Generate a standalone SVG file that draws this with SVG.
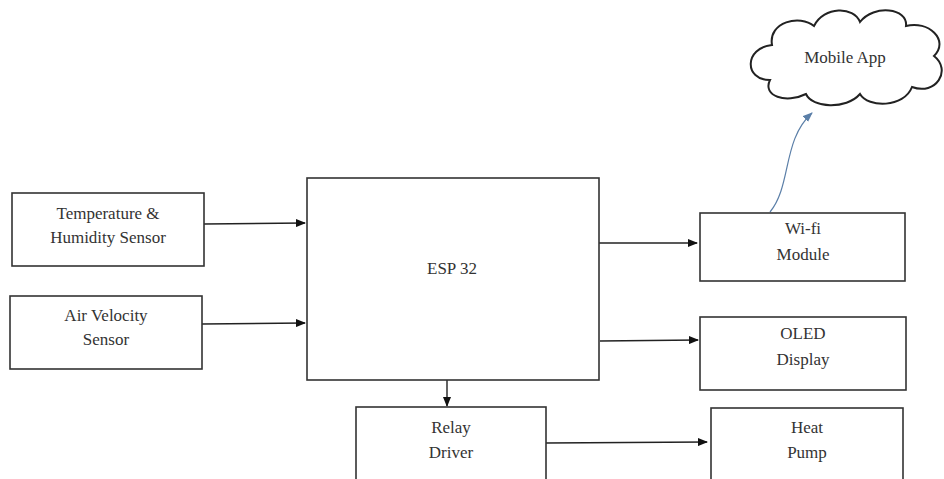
<svg xmlns="http://www.w3.org/2000/svg" width="944" height="479" viewBox="0 0 944 479">
<defs>
<marker id="ah" markerWidth="10" markerHeight="8" refX="9" refY="4" orient="auto" markerUnits="userSpaceOnUse">
<path d="M0,0 L10,4 L0,8 Z" fill="#111"/>
</marker>
<marker id="ahb" markerWidth="10" markerHeight="8" refX="9" refY="4" orient="auto" markerUnits="userSpaceOnUse">
<path d="M0,0 L10,4 L0,8 Z" fill="#5b7fa8"/>
</marker>
<style>
.box{fill:#fff;stroke:#333;stroke-width:1.6}
.t{font-family:"Liberation Serif",Tinos,"Times New Roman",Times,serif;font-size:17px;fill:#333;text-anchor:middle}
.c{stroke:#222;stroke-width:1.4;fill:none}
</style>
</defs>
<rect width="944" height="479" fill="#fff"/>
<g id="connectors">
<line class="c" x1="204" y1="224" x2="305" y2="223" marker-end="url(#ah)"/>
<line class="c" x1="202" y1="324" x2="305" y2="323" marker-end="url(#ah)"/>
<line class="c" x1="596" y1="243" x2="697" y2="243" marker-end="url(#ah)"/>
<line class="c" x1="600" y1="341" x2="698" y2="340" marker-end="url(#ah)"/>
<line class="c" x1="447" y1="380" x2="447" y2="406" marker-end="url(#ah)"/>
<line class="c" x1="546" y1="443" x2="707" y2="442" marker-end="url(#ah)"/>
<path d="M770,212 C792,185 782,140 812,113" stroke="#5b7fa8" stroke-width="1.2" fill="none" marker-end="url(#ahb)"/>
</g>
<g id="temp"><rect class="box" x="12" y="193" width="192" height="73"/>
<text class="t" x="108" y="219">Temperature &amp;</text><text class="t" x="108" y="243">Humidity Sensor</text></g>
<g id="air"><rect class="box" x="10" y="296" width="192" height="73"/>
<text class="t" x="106" y="321">Air Velocity</text><text class="t" x="106" y="345">Sensor</text></g>
<g id="esp"><rect class="box" x="307" y="178" width="292" height="202"/>
<text class="t" x="452" y="274">ESP 32</text></g>
<g id="wifi"><rect class="box" x="700" y="213" width="205" height="68"/>
<text class="t" x="803" y="234">Wi-fi</text><text class="t" x="803" y="260">Module</text></g>
<g id="oled"><rect class="box" x="700" y="317" width="206" height="73"/>
<text class="t" x="803" y="339">OLED</text><text class="t" x="803" y="365">Display</text></g>
<g id="relay"><rect class="box" x="356" y="407" width="190" height="90"/>
<text class="t" x="451" y="433">Relay</text><text class="t" x="451" y="458">Driver</text></g>
<g id="heat"><rect class="box" x="711" y="408" width="192" height="90"/>
<text class="t" x="807" y="433">Heat</text><text class="t" x="807" y="458">Pump</text></g>
<g id="cloud">
<path d="M770,80 C744,80 744,48 772,45 C768,22 800,14 814,26 C824,6 854,6 860,22 C874,4 908,8 906,26 C928,20 950,40 934,56 C952,70 936,96 912,87 C904,108 868,108 860,94 C846,110 812,108 806,94 C786,104 762,96 770,80 Z" fill="#fff" stroke="#222" stroke-width="2"/>
<text class="t" x="845" y="63">Mobile App</text></g>
</svg>
